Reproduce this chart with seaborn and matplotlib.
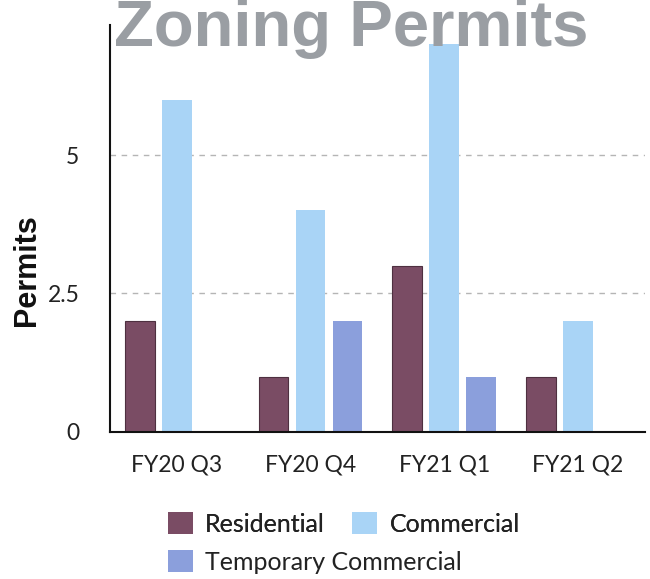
import matplotlib
matplotlib.use("Agg")
import matplotlib.pyplot as plt
import seaborn as sns
import pandas as pd

quarters = ["FY20 Q3", "FY20 Q4", "FY21 Q1", "FY21 Q2"]
residential = [2, 1, 3, 1]
commercial = [6, 4, 7, 2]
temporary_commercial = [0, 2, 1, 0]
series_names = ["Residential", "Commercial", "Temporary Commercial"]
series_colors = ["#7a4c64", "#a9d4f6", "#8b9fdc"]
y_ticks = [0, 2.5, 5]

df = pd.DataFrame({
    "Quarter": quarters * 3,
    "Type": [series_names[0]] * 4 + [series_names[1]] * 4 + [series_names[2]] * 4,
    "Permits": residential + commercial + temporary_commercial,
})

sns.set_theme(style="white")
plt.rcParams["font.family"] = ["Lato", "DejaVu Sans"]

fig = plt.figure(figsize=(6.5, 5.79), dpi=100)
ax = fig.add_axes([0.169, 0.254, 0.823, 0.703])

sns.barplot(data=df, x="Quarter", y="Permits", hue="Type", order=quarters,
            hue_order=series_names, palette=series_colors, width=0.83, gap=0.2,
            linewidth=0, saturation=1, ax=ax, legend=True)

# thin darker outline on the residential bars
for bar in ax.containers[0]:
    bar.set_edgecolor("#4e3040")
    bar.set_linewidth(0.8)

ax.set_ylim(0, 7.35)
ax.set_yticks(y_ticks)
ax.set_yticklabels(["0", "2.5", "5"])
ax.set_xlim(-0.5, 3.5)
ax.yaxis.grid(True, linestyle=(0, (4, 4)), color="#b5b5b5", linewidth=1.0)
ax.set_axisbelow(True)
ax.tick_params(axis="y", length=0, pad=22, labelsize=16.5, labelcolor="#222222")
ax.tick_params(axis="x", length=0, pad=16, labelsize=16.5, labelcolor="#222222")
for s in ["top", "right"]:
    ax.spines[s].set_visible(False)
for s in ["left", "bottom"]:
    ax.spines[s].set_color("#111111")
    ax.spines[s].set_linewidth(1.5)

ax.set_xlabel("")
ax.set_ylabel("Permits", fontsize=22, fontweight="bold",
              family=["Liberation Sans", "DejaVu Sans"], color="#111111")
ax.yaxis.set_label_coords(-0.127, 0.398)

# legend in two rows: Residential / Commercial, then Temporary Commercial
handles, labels = ax.get_legend_handles_labels()
ax.get_legend().remove()
legend_kw = dict(loc="center left", frameon=False, fontsize=18, handlelength=1.0,
                 handleheight=1.0, handletextpad=0.48, columnspacing=1.1,
                 borderpad=0, borderaxespad=0, labelcolor="#222222")
row1 = fig.legend(handles[:2], labels[:2], ncol=2,
                  bbox_to_anchor=(0.2585, 0.095), **legend_kw)
fig.add_artist(row1)
fig.legend(handles[2:], labels[2:], ncol=1,
           bbox_to_anchor=(0.2585, 0.0294), **legend_kw)

fig.text(0.54, 1 - 46 / 579, "Zoning Permits", ha="center", va="baseline",
         fontsize=47, fontweight="bold", family=["Liberation Sans", "DejaVu Sans"],
         color="#9a9ea3")

fig.savefig("out.png", dpi=100)
